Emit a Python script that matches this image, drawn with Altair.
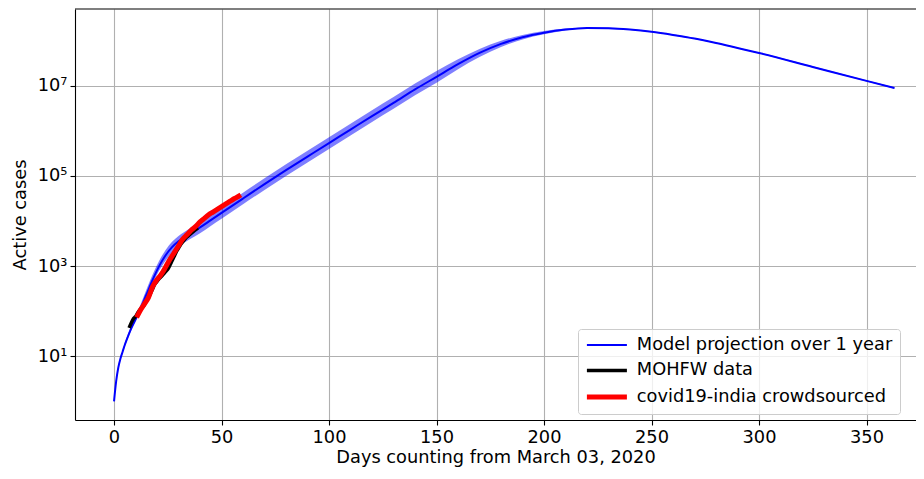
import numpy as np
import pandas as pd
import altair as alt

# ---------------- data ----------------
series_names = ["Model projection over 1 year", "MOHFW data", "covid19-india crowdsourced"]
series_colors = ["#0000ff", "#000000", "#ff0000"]
series_widths = [2, 5, 5]

model_days = [0, 1, 2, 3, 4, 5, 6, 8, 10, 12, 15, 18, 21, 24, 27, 30, 35, 40, 45, 50,
              60, 70, 80, 90, 100, 110, 120, 130, 140, 150, 160, 170, 180, 190, 200,
              210, 220, 230, 240, 250, 260, 270, 280, 290, 300, 325, 350, 363]
model_mid_log10 = [0.00, 0.45, 0.75, 0.95, 1.10, 1.25, 1.38, 1.62, 1.82, 2.02, 2.36, 2.70, 3.00,
                   3.24, 3.42, 3.55, 3.71, 3.86, 4.02, 4.18, 4.50, 4.82, 5.13, 5.43, 5.73, 6.03,
                   6.33, 6.62, 6.92, 7.20, 7.48, 7.73, 7.93, 8.08, 8.18, 8.25, 8.285, 8.28,
                   8.25, 8.20, 8.13, 8.05, 7.95, 7.84, 7.73, 7.42, 7.11, 6.95]
model_lo_log10 = [-0.02, 0.42, 0.71, 0.91, 1.06, 1.21, 1.34, 1.57, 1.76, 1.95, 2.28, 2.61, 2.90,
                  3.12, 3.30, 3.43, 3.59, 3.73, 3.89, 4.05, 4.37, 4.69, 5.00, 5.30, 5.60, 5.90,
                  6.20, 6.49, 6.79, 7.07, 7.37, 7.64, 7.86, 8.03, 8.145, 8.23, 8.273, 8.268,
                  8.238, 8.188, 8.118, 8.038, 7.938, 7.828, 7.718, 7.408, 7.098, 6.938]
model_hi_log10 = [0.02, 0.48, 0.79, 0.99, 1.14, 1.29, 1.43, 1.68, 1.89, 2.11, 2.47, 2.82, 3.12,
                  3.36, 3.54, 3.67, 3.83, 3.99, 4.15, 4.31, 4.63, 4.95, 5.26, 5.56, 5.86, 6.16,
                  6.46, 6.75, 7.05, 7.33, 7.59, 7.82, 8.00, 8.13, 8.215, 8.27, 8.297, 8.292,
                  8.262, 8.212, 8.142, 8.062, 7.962, 7.852, 7.742, 7.432, 7.122, 6.962]

mohfw_days = [7, 8, 9, 10, 11, 12, 13, 14, 15, 16, 17, 18, 19, 20, 21, 22, 23, 24, 25, 26,
              27, 28, 29, 30, 31, 32, 33, 34, 35, 36, 37, 38, 39]
mohfw_log10 = [1.63, 1.74, 1.83, 1.88, 1.96, 2.03, 2.08, 2.13, 2.22, 2.30, 2.40, 2.50, 2.60,
               2.66, 2.72, 2.77, 2.82, 2.88, 2.93, 3.02, 3.12, 3.22, 3.32, 3.40, 3.48, 3.54,
               3.60, 3.65, 3.69, 3.73, 3.77, 3.81, 3.85]

crowd_days = [10.5, 12, 14, 16, 18, 20, 22, 24, 26, 28, 30, 32, 34, 36, 38, 40, 42, 44, 46,
              48, 50, 52, 54, 56, 58, 59]
crowd_log10 = [1.86, 2.00, 2.15, 2.30, 2.55, 2.70, 2.82, 2.98, 3.15, 3.30, 3.45, 3.60, 3.70,
               3.80, 3.88, 3.98, 4.06, 4.14, 4.20, 4.26, 4.32, 4.38, 4.44, 4.50, 4.55, 4.58]

x_ticks = [0, 50, 100, 150, 200, 250, 300, 350]
y_ticks = [10, 1000, 100000, 10000000]
y_tick_labels = ["10¹", "10³", "10⁵", "10⁷"]

# ---------------- tables ----------------
band_df = pd.DataFrame({
    "day": model_days,
    "lo": np.power(10.0, model_lo_log10),
    "hi": np.power(10.0, model_hi_log10),
})
model_df = pd.DataFrame({"day": model_days, "cases": np.power(10.0, model_mid_log10),
                         "series": series_names[0]})
mohfw_df = pd.DataFrame({"day": mohfw_days, "cases": np.power(10.0, mohfw_log10),
                         "series": series_names[1]})
crowd_df = pd.DataFrame({"day": crowd_days, "cases": np.power(10.0, crowd_log10),
                         "series": series_names[2]})

W, H = 841, 411
PX_PER_DAY = 2.15
x_dom = [-18.15, -18.15 + W / PX_PER_DAY]
y_dom = [10 ** -0.415, 10 ** 8.705]

FONT = "DejaVu Sans"
FS = 17.8

label_map = "{" + ",".join(f"'{v}':'{l}'" for v, l in zip(y_ticks, y_tick_labels)) + "}"

x_enc = alt.X("day:Q", scale=alt.Scale(domain=x_dom, nice=False, zero=False),
              axis=alt.Axis(values=x_ticks, title="Days counting from March 03, 2020",
                            format="d"))
y_scale = alt.Scale(type="log", domain=y_dom, nice=False)
y_axis = alt.Axis(values=y_ticks, title="Active cases",
                  labelExpr=f"{label_map}[datum.value] || ''")

legend = alt.Legend(
    title=None, orient="none", legendX=503, legendY=320,
    labelFont=FONT, labelFontSize=FS, labelColor="black", labelLimit=0,
    symbolType="M-1.4,0H6.6", symbolSize=100, labelOffset=34,
    padding=7, rowPadding=6.5, strokeColor="#cccccc", fillColor="rgba(255,255,255,0.8)",
    cornerRadius=3, symbolOpacity=1,
)
color_enc = alt.Color("series:N", scale=alt.Scale(domain=series_names, range=series_colors),
                      legend=legend)
sw_enc = alt.StrokeWidth("series:N", scale=alt.Scale(domain=series_names, range=series_widths),
                         legend=legend)

band = alt.Chart(band_df).mark_area(color="#0000ff", opacity=0.5, interpolate="monotone").encode(
    x=x_enc,
    y=alt.Y("lo:Q", scale=y_scale, axis=y_axis),
    y2="hi:Q",
)

def line(df):
    return alt.Chart(df).mark_line(interpolate="monotone", strokeCap="butt").encode(
        x=alt.X("day:Q"),
        y=alt.Y("cases:Q"),
        color=color_enc,
        strokeWidth=sw_enc,
    )

top_spine = alt.Chart(pd.DataFrame({"s": [0]})).mark_rule(color="black", strokeWidth=1.1).encode(
    x=alt.value(0), x2=alt.value(W), y=alt.value(0)
)

chart = alt.layer(band, line(model_df), line(mohfw_df), line(crowd_df), top_spine).properties(
    width=W, height=H,
    autosize=alt.AutoSizeParams(type="none"),
    padding={"left": 67, "top": 1, "right": 0, "bottom": 51},
).configure_view(stroke=None).configure_axis(
    labelFont=FONT, labelFontSize=FS, labelColor="black",
    titleFont=FONT, titleFontSize=FS, titleColor="black", titleFontWeight="normal",
    domainColor="black", domainWidth=1.1, tickColor="black", tickWidth=1.1, tickSize=5,
    labelPadding=3, gridColor="#b0b0b0", gridWidth=1.1,
).configure_axisX(titlePadding=3).configure_axisY(titlePadding=8)

chart.save("out.html", embed_options={"renderer": "svg", "actions": False})
